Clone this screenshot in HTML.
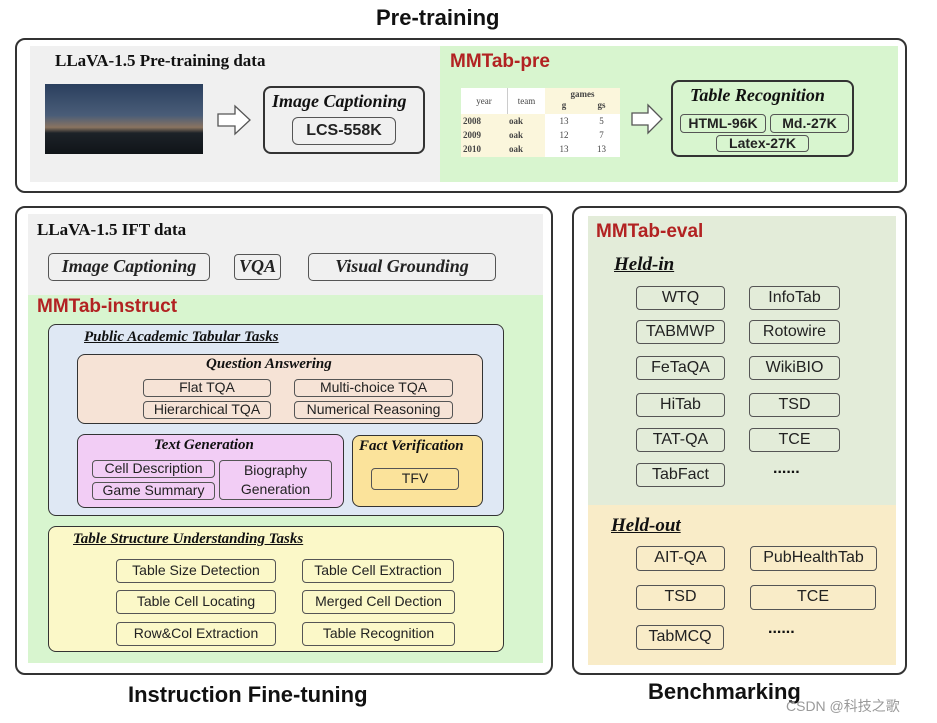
<!DOCTYPE html>
<html><head><meta charset="utf-8"><style>
*{box-sizing:border-box;margin:0;padding:0}
body{width:937px;height:723px;background:#fff;position:relative;overflow:hidden;font-family:"Liberation Sans",sans-serif;color:#111}
div{position:absolute}
.b{border:2px solid #333;border-radius:8px}
.btn{border:1.5px solid #555;border-radius:4px;text-align:center;font-size:14px;color:#222;white-space:nowrap}
.ser{font-family:"Liberation Serif",serif;font-weight:bold}
.it{font-family:"Liberation Serif",serif;font-weight:bold;font-style:italic}
.red{color:#b22222;font-weight:bold;font-size:19px}
.t{white-space:nowrap}
.big{font-weight:bold;font-size:22px;white-space:nowrap}
.u{text-decoration:underline}
</style></head><body>
<div class="big" style="left:376px;top:5px">Pre-training</div>
<div class="b" style="left:15px;top:38px;width:892px;height:155px;border-radius:10px"></div>
<div style="left:30px;top:46px;width:410px;height:136px;background:#f0f0f0"></div>
<div style="left:440px;top:46px;width:458px;height:136px;background:#d8f5cf"></div>
<div class="t ser" style="left:55px;top:51px;font-size:17px">LLaVA-1.5 Pre-training data</div>
<div style="left:45px;top:84px;width:158px;height:70px;background:linear-gradient(180deg,#2a3f5e 0%,#4a5d78 45%,#8a7460 62%,#1c2228 70%,#101418 100%)"></div>
<svg style="position:absolute;left:0;top:0" width="937" height="723">
<polygon points="218,114 235,114 235,106 250,120 235,134 235,126 218,126" fill="#fff" stroke="#555" stroke-width="1.3"/>
<polygon points="632,113 648,113 648,105 662,119 648,133 648,125 632,125" fill="#fff" stroke="#555" stroke-width="1.3"/>
</svg>
<div class="b" style="left:263px;top:86px;width:162px;height:68px"></div>
<div class="t it" style="left:272px;top:91px;font-size:18px">Image Captioning</div>
<div class="btn" style="left:292px;top:117px;width:104px;height:28px;font-weight:bold;font-size:16px;line-height:25px;border-radius:6px">LCS-558K</div>
<div class="t red" style="left:450px;top:51px">MMTab-pre</div>
<div style="left:461px;top:88px;width:159px;height:69px;background:#fff;font-family:'Liberation Serif',serif;font-size:9px;color:#444">
<div style="left:0;top:0;width:46px;height:26px;text-align:center;line-height:26px">year</div>
<div style="left:46px;top:0;width:38px;height:26px;text-align:center;line-height:26px;border-left:1px solid #ccc">team</div>
<div style="left:84px;top:0;width:75px;height:12px;background:#fbf6dc;text-align:center;line-height:12px;font-weight:bold">games</div>
<div style="left:84px;top:12px;width:38px;height:14px;background:#fbf6dc;text-align:center;font-weight:bold">g</div>
<div style="left:122px;top:12px;width:37px;height:14px;background:#fbf6dc;text-align:center;font-weight:bold">gs</div>
<div style="left:0;top:26px;width:84px;height:43px;background:#fbf6dc;font-weight:bold;line-height:14px;padding-left:2px">2008<br>2009<br>2010</div>
<div style="left:48px;top:26px;font-weight:bold;line-height:14px">oak<br>oak<br>oak</div>
<div style="left:84px;top:26px;width:38px;text-align:center;line-height:14px">13<br>12<br>13</div>
<div style="left:122px;top:26px;width:37px;text-align:center;line-height:14px">5<br>7<br>13</div>
</div>
<div class="b" style="left:671px;top:80px;width:183px;height:77px"></div>
<div class="t it" style="left:690px;top:85px;font-size:18px">Table Recognition</div>
<div class="btn" style="left:680px;top:114px;width:86px;height:19px;font-weight:bold;font-size:14px;line-height:16px">HTML-96K</div>
<div class="btn" style="left:770px;top:114px;width:79px;height:19px;font-weight:bold;font-size:14px;line-height:16px">Md.-27K</div>
<div class="btn" style="left:716px;top:135px;width:93px;height:17px;font-weight:bold;font-size:14px;line-height:14px">Latex-27K</div>

<div class="b" style="left:15px;top:206px;width:538px;height:469px;border-radius:10px"></div>
<div style="left:28px;top:214px;width:515px;height:81px;background:#f0f0f0"></div>
<div style="left:28px;top:295px;width:515px;height:368px;background:#d8f5cf"></div>
<div class="t ser" style="left:37px;top:220px;font-size:17px">LLaVA-1.5 IFT data</div>
<div class="btn it" style="left:48px;top:253px;width:162px;height:28px;font-size:18px;line-height:25px;border-radius:5px">Image Captioning</div>
<div class="btn it" style="left:234px;top:254px;width:47px;height:26px;font-size:18px;line-height:23px">VQA</div>
<div class="btn it" style="left:308px;top:253px;width:188px;height:28px;font-size:18px;line-height:25px;border-radius:5px">Visual Grounding</div>
<div class="t red" style="left:37px;top:296px">MMTab-instruct</div>
<div class="b" style="left:48px;top:324px;width:456px;height:192px;background:#dfe8f4;border-width:1.5px"></div>
<div class="t it u" style="left:84px;top:329px;font-size:15px">Public Academic Tabular Tasks</div>
<div class="b" style="left:77px;top:354px;width:406px;height:70px;background:#f6e3d6;border-width:1.5px"></div>
<div class="t it" style="left:206px;top:356px;font-size:15px">Question Answering</div>
<div class="btn" style="left:143px;top:379px;width:128px;height:18px;line-height:15px">Flat TQA</div>
<div class="btn" style="left:294px;top:379px;width:159px;height:18px;line-height:15px">Multi-choice TQA</div>
<div class="btn" style="left:143px;top:401px;width:128px;height:18px;line-height:15px">Hierarchical TQA</div>
<div class="btn" style="left:294px;top:401px;width:159px;height:18px;line-height:15px">Numerical Reasoning</div>
<div class="b" style="left:77px;top:434px;width:267px;height:74px;background:#f2cdf5;border-width:1.5px"></div>
<div class="t it" style="left:154px;top:437px;font-size:15px">Text Generation</div>
<div class="btn" style="left:92px;top:460px;width:123px;height:18px;line-height:15px">Cell Description</div>
<div class="btn" style="left:92px;top:482px;width:123px;height:18px;line-height:15px">Game Summary</div>
<div class="btn" style="left:219px;top:460px;width:113px;height:40px;line-height:19px">Biography<br>Generation</div>
<div class="b" style="left:352px;top:435px;width:131px;height:72px;background:#fbe39b;border-width:1.5px"></div>
<div class="t it" style="left:359px;top:438px;font-size:15px">Fact Verification</div>
<div class="btn" style="left:371px;top:468px;width:88px;height:22px;line-height:19px">TFV</div>
<div class="b" style="left:48px;top:526px;width:456px;height:126px;background:#fbf8c8;border-width:1.5px"></div>
<div class="t it u" style="left:73px;top:531px;font-size:15px">Table Structure Understanding Tasks</div>
<div class="btn" style="left:116px;top:559px;width:160px;height:24px;line-height:21px">Table Size Detection</div>
<div class="btn" style="left:302px;top:559px;width:152px;height:24px;line-height:21px">Table Cell Extraction</div>
<div class="btn" style="left:116px;top:590px;width:160px;height:24px;line-height:21px">Table Cell Locating</div>
<div class="btn" style="left:302px;top:590px;width:153px;height:24px;line-height:21px">Merged Cell Dection</div>
<div class="btn" style="left:116px;top:622px;width:160px;height:24px;line-height:21px">Row&amp;Col Extraction</div>
<div class="btn" style="left:302px;top:622px;width:153px;height:24px;line-height:21px">Table Recognition</div>
<div class="big" style="left:128px;top:682px">Instruction Fine-tuning</div>

<div class="b" style="left:572px;top:206px;width:335px;height:469px;border-radius:10px"></div>
<div style="left:588px;top:216px;width:308px;height:289px;background:#e3ecd9"></div>
<div style="left:588px;top:505px;width:308px;height:160px;background:#f9ecc8"></div>
<div class="t red" style="left:596px;top:221px">MMTab-eval</div>
<div class="t it u" style="left:614px;top:254px;font-size:19px">Held-in</div>
<div class="btn" style="left:636px;top:286px;width:89px;height:24px;font-size:16px;line-height:21px">WTQ</div>
<div class="btn" style="left:749px;top:286px;width:91px;height:24px;font-size:16px;line-height:21px">InfoTab</div>
<div class="btn" style="left:636px;top:320px;width:89px;height:24px;font-size:16px;line-height:21px">TABMWP</div>
<div class="btn" style="left:749px;top:320px;width:91px;height:24px;font-size:16px;line-height:21px">Rotowire</div>
<div class="btn" style="left:636px;top:356px;width:89px;height:24px;font-size:16px;line-height:21px">FeTaQA</div>
<div class="btn" style="left:749px;top:356px;width:91px;height:24px;font-size:16px;line-height:21px">WikiBIO</div>
<div class="btn" style="left:636px;top:393px;width:89px;height:24px;font-size:16px;line-height:21px">HiTab</div>
<div class="btn" style="left:749px;top:393px;width:91px;height:24px;font-size:16px;line-height:21px">TSD</div>
<div class="btn" style="left:636px;top:428px;width:89px;height:24px;font-size:16px;line-height:21px">TAT-QA</div>
<div class="btn" style="left:749px;top:428px;width:91px;height:24px;font-size:16px;line-height:21px">TCE</div>
<div class="btn" style="left:636px;top:463px;width:89px;height:24px;font-size:16px;line-height:21px">TabFact</div>
<div class="t" style="left:773px;top:460px;font-size:16px;font-weight:bold">......</div>
<div class="t it u" style="left:611px;top:515px;font-size:19px">Held-out</div>
<div class="btn" style="left:636px;top:546px;width:89px;height:25px;font-size:16px;line-height:22px">AIT-QA</div>
<div class="btn" style="left:750px;top:546px;width:127px;height:25px;font-size:16px;line-height:22px">PubHealthTab</div>
<div class="btn" style="left:636px;top:585px;width:89px;height:25px;font-size:16px;line-height:22px">TSD</div>
<div class="btn" style="left:750px;top:585px;width:126px;height:25px;font-size:16px;line-height:22px">TCE</div>
<div class="btn" style="left:636px;top:625px;width:88px;height:25px;font-size:16px;line-height:22px">TabMCQ</div>
<div class="t" style="left:768px;top:620px;font-size:16px;font-weight:bold">......</div>
<div class="big" style="left:648px;top:679px">Benchmarking</div>
<div class="t" style="left:786px;top:696px;font-size:14px;color:#999;font-family:'Liberation Sans','Noto Sans CJK SC',sans-serif">CSDN @科技之歌</div>
</body></html>
